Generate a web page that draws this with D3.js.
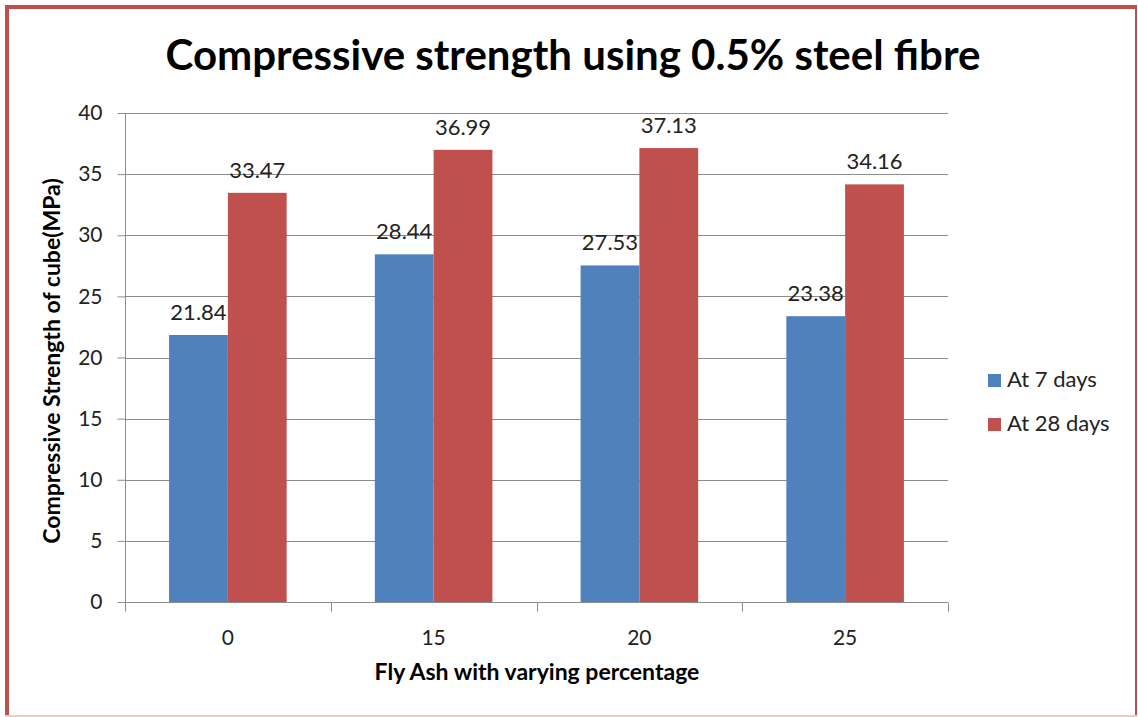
<!DOCTYPE html>
<html><head><meta charset="utf-8">
<script src="https://cdn.jsdelivr.net/npm/d3@7"></script>
<style>body{margin:0;background:#fff}svg{display:block}text{font-family:Lato,"Open Sans",sans-serif}</style>
</head><body><svg id="c" width="1138" height="717"></svg>
<script>
const categories = ["0","15","20","25"];
const seriesNames = ["At 7 days","At 28 days"];
const days7 = [21.84, 28.44, 27.53, 23.38];
const days28 = [33.47, 36.99, 37.13, 34.16];
const yTicks = [0,5,10,15,20,25,30,35,40];
const colors = ["#4F81BD","#C0504D"];

(function(){
const svg = d3.select("#c");
// frame
svg.append("rect").attr("x",0).attr("y",0).attr("width",1138).attr("height",717).attr("fill","#fff");
svg.append("rect").attr("x",5).attr("y",5).attr("width",1132).attr("height",4).attr("fill","#C0504D");
svg.append("rect").attr("x",5).attr("y",5).attr("width",4).attr("height",712).attr("fill","#C0504D");
svg.append("rect").attr("x",1135).attr("y",5).attr("width",2).attr("height",712).attr("fill","#C0504D");
svg.append("rect").attr("x",5).attr("y",715).attr("width",1132).attr("height",2).attr("fill","#F2C8C6");

const pL = 125, pR = 948, pT = 113, pB = 602;
const x = d3.scaleBand().domain(categories).range([pL,pR]).paddingInner(0).paddingOuter(0);
const y = d3.scaleLinear().domain([0,40]).range([pB,pT]);
const inner = x.bandwidth()/3.5;
const xs = d3.scaleBand().domain(seriesNames).range([0, inner*2]);

// gridlines
svg.append("g").selectAll("line").data(yTicks.filter(d=>d>0)).join("line")
  .attr("x1",pL).attr("x2",pR).attr("y1",d=>Math.round(y(d))+0.5).attr("y2",d=>Math.round(y(d))+0.5)
  .attr("stroke","#8C8C8C").attr("stroke-width",1);

// y axis
const ya = svg.append("g").attr("transform",`translate(${pL+0.5},0)`)
  .call(d3.axisLeft(y).tickValues(yTicks).tickSize(8).tickPadding(15).tickFormat(d3.format("d")));
ya.select(".domain").attr("stroke","#8C8C8C").attr("d",`M0,${pT}V${pB}`);
ya.selectAll(".tick line").attr("stroke","#8C8C8C");
ya.selectAll(".tick text").attr("font-size",21).attr("fill","#222").style("font-family","Lato");

// x axis
const xa = svg.append("g").attr("transform",`translate(0,${pB+0.5})`);
xa.append("line").attr("x1",pL).attr("x2",pR).attr("stroke","#8C8C8C");
const bounds = [pL].concat(categories.map(c=>x(c)+x.bandwidth()));
xa.selectAll("line.tk").data(bounds).join("line").attr("class","tk")
  .attr("x1",d=>Math.round(d)+0.5).attr("x2",d=>Math.round(d)+0.5).attr("y1",0).attr("y2",9).attr("stroke","#8C8C8C");
xa.selectAll("text").data(categories).join("text")
  .attr("x",d=>x(d)+x.bandwidth()/2).attr("y",42).attr("text-anchor","middle")
  .attr("font-size",21).attr("fill","#222").text(d=>d);

// bars
const data = [days7, days28];
data.forEach((vals,si)=>{
  const g = svg.append("g");
  g.selectAll("rect").data(vals).join("rect")
    .attr("x",(d,i)=>x(categories[i])+(x.bandwidth()-inner*2)/2+xs(seriesNames[si]))
    .attr("width",xs.bandwidth())
    .attr("y",d=>y(d)).attr("height",d=>pB-y(d))
    .attr("fill",colors[si]);
  g.selectAll("text").data(vals).join("text")
    .attr("x",(d,i)=>x(categories[i])+(x.bandwidth()-inner*2)/2+xs(seriesNames[si])+xs.bandwidth()/2)
    .attr("y",d=>y(d)-15).attr("text-anchor","middle")
    .attr("font-size",22).attr("fill","#222").text(d=>d3.format(".2f")(d));
});

// title
svg.append("text").attr("x",573).attr("y",70).attr("text-anchor","middle")
  .attr("font-size",42).attr("font-weight","bold").attr("fill","#000")
  .text("Compressive strength using 0.5% steel fibre");
// axis titles
svg.append("text").attr("transform","translate(60,361) rotate(-90)").attr("text-anchor","middle")
  .attr("font-size",23).attr("font-weight","bold").attr("fill","#000")
  .text("Compressive Strength of cube(MPa)");
svg.append("text").attr("x",537).attr("y",680).attr("text-anchor","middle")
  .attr("font-size",23).attr("font-weight","bold").attr("fill","#000")
  .text("Fly Ash with varying percentage");

// legend
const lg = svg.append("g");
seriesNames.forEach((s,i)=>{
  lg.append("rect").attr("x",988).attr("y",374+i*44).attr("width",13).attr("height",13).attr("fill",colors[i]);
  lg.append("text").attr("x",1007).attr("y",387+i*44).attr("font-size",22).attr("fill","#222").text(s);
});
})();
</script></body></html>
